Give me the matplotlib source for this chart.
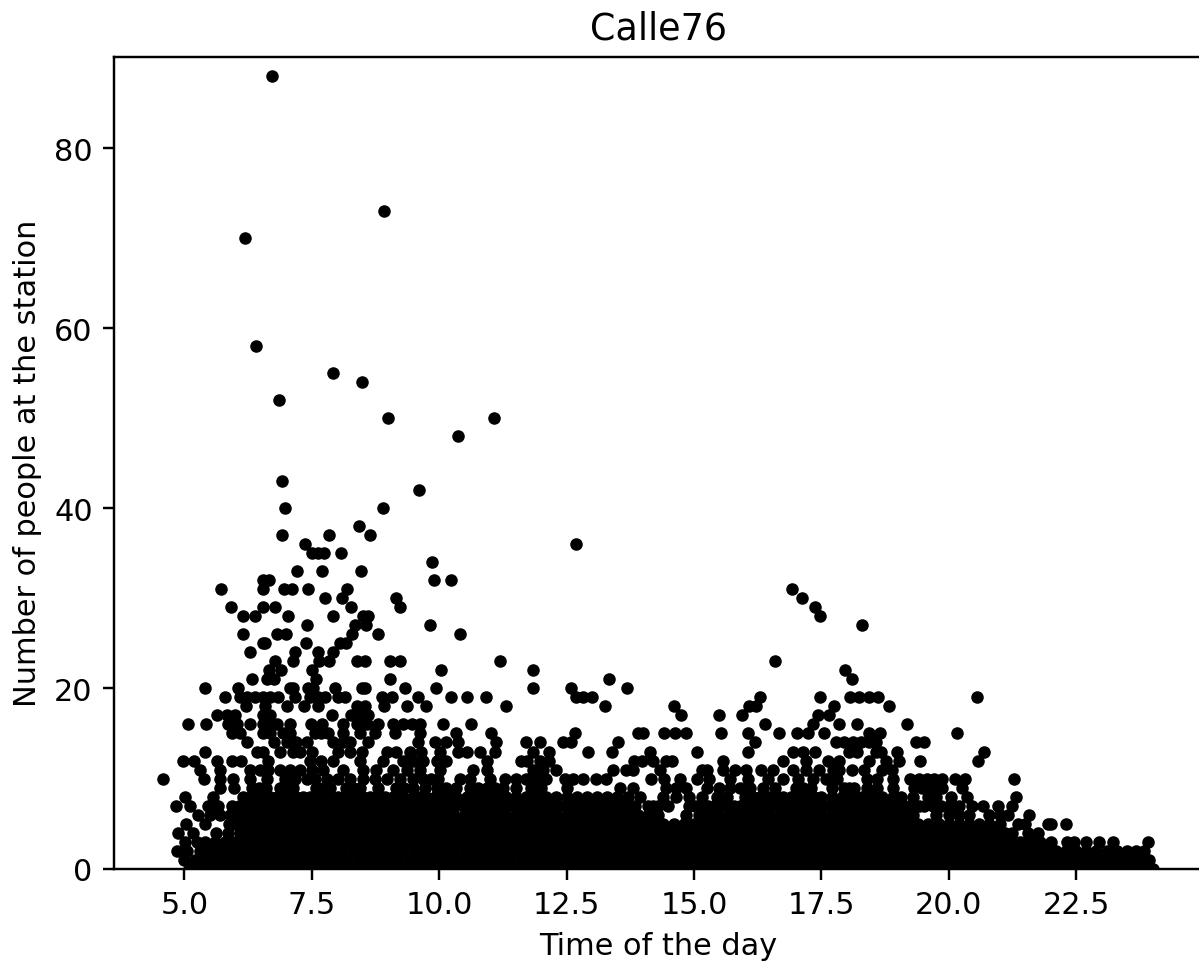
import matplotlib
matplotlib.use('Agg')
import matplotlib.pyplot as plt

# values, grouped by people count
top_x = [9.86, 7.50, 7.62, 7.74, 8.07, 7.37, 12.68, 6.92, 7.84, 8.64, 8.43, 6.98, 8.90, 9.60, 6.92,
         10.37, 8.99, 11.07, 6.86, 8.48, 7.92, 6.41, 6.19, 8.92, 6.72]
top_y = [34, 35, 35, 35, 35, 36, 36, 37, 37, 37, 38, 40, 40, 42, 43,
         48, 50, 50, 52, 54, 55, 58, 70, 73, 88]

x33 = [7.22, 7.71, 8.46]
x32 = [6.54, 6.67, 9.90, 10.23]
x31 = [5.72, 6.54, 6.96, 7.12, 7.43, 8.20, 16.92]
x30 = [7.76, 8.09, 9.16, 17.13]
x29 = [5.92, 6.54, 6.78, 8.28, 9.24, 17.38]
x28 = [6.16, 6.39, 7.03, 7.92, 8.51, 8.61, 17.48]
x27 = [7.41, 8.35, 8.56, 9.82, 18.29]
x26 = [6.16, 6.82, 6.99, 8.29, 8.80, 10.40]
x25 = [6.55, 6.58, 7.39, 8.05, 8.17]
x24 = [6.29, 7.18, 7.63, 7.92]
x23 = [6.78, 7.14, 7.65, 7.84, 8.38, 8.55, 9.03, 9.24, 11.20, 16.60]
x22 = [6.66, 6.90, 7.50, 10.04, 11.84, 17.97]
x21 = [6.33, 6.63, 6.75, 7.59, 9.03, 13.34, 18.10]
x20 = [5.40, 6.05, 7.07, 7.14, 7.43, 7.53, 7.95, 8.48, 8.55, 9.33, 9.93, 11.84, 12.59, 13.69]
x19 = [5.80, 6.09, 6.22, 6.39, 6.55, 6.68, 6.84, 7.17, 7.46, 7.63, 7.76, 8.02, 8.15, 8.87, 9.07, 9.59,
       10.24, 10.54, 10.91, 12.68, 12.82, 13.00, 16.30, 17.48, 18.07, 18.23, 18.44, 18.61, 20.55]
x18 = [6.21, 6.58, 7.01, 7.35, 7.63, 8.38, 8.54, 8.92, 9.36, 9.74, 11.31, 13.26, 14.60, 16.09, 16.22,
       17.75, 18.82]
x17 = [5.65, 5.83, 5.99, 6.55, 6.68, 7.89, 8.28, 8.44, 8.61, 14.74, 15.50, 15.94, 17.43, 17.66]
x16 = [5.07, 5.42, 5.86, 6.03, 6.29, 6.55, 6.68, 6.81, 7.07, 7.48, 7.71, 8.12, 8.38, 8.58, 8.80, 9.10,
       9.29, 9.46, 9.62, 10.08, 10.62, 16.40, 17.33, 17.85, 18.21, 19.18]
x15 = [5.93, 6.09, 6.55, 6.68, 6.94, 7.07, 7.56, 7.69, 7.82, 8.12, 8.44, 8.74, 9.13, 9.62, 10.34, 11.02,
       12.66, 13.90, 14.00, 14.42, 14.63, 14.85, 15.53, 16.07, 16.67, 17.02, 17.23, 17.56, 18.44, 18.66, 20.16]
x14 = [6.22, 6.75, 7.01, 7.20, 7.40, 7.92, 8.12, 8.25, 8.61, 9.59, 9.92, 10.14, 10.37, 11.12, 11.71,
       11.97, 12.43, 12.59, 13.51, 16.20, 17.79, 17.95, 18.12, 18.28, 18.44, 18.58, 19.36, 19.52]
x13 = [5.40, 6.42, 6.55, 6.88, 7.14, 7.27, 7.50, 8.02, 8.25, 8.48, 8.97, 9.16, 9.42, 9.65, 10.01, 10.37,
       10.54, 10.80, 11.10, 11.84, 12.16, 12.92, 13.40, 14.14, 15.07, 16.06, 16.94, 17.14, 17.37, 18.05,
       18.21, 18.58, 18.68, 18.98, 20.69]
x12 = [4.98, 5.18, 5.65, 5.93, 6.12, 6.65, 7.46, 7.69, 7.92, 8.44, 8.90, 9.29, 9.49, 9.69, 9.95, 10.14,
       10.93, 11.60, 11.73, 11.97, 12.16, 13.83, 13.99, 14.19, 14.46, 14.56, 15.57, 16.74, 17.20, 17.63,
       17.85, 18.44, 18.77, 19.03, 19.44, 20.58]
x11 = [5.31, 5.70, 6.29, 6.48, 6.65, 6.88, 7.07, 7.27, 7.50, 7.73, 8.12, 8.51, 8.77, 9.10, 9.36, 9.62,
       10.01, 10.67, 10.93, 11.84, 12.04, 12.30, 13.42, 13.67, 13.80, 14.33, 15.15, 15.25, 15.57, 15.80,
       16.03, 16.32, 16.55, 16.94, 17.20, 17.46, 17.72, 17.85, 18.10, 18.34, 18.70, 18.88]
x10 = [4.59, 5.39, 5.70, 5.96, 6.29, 6.97, 7.40, 7.56, 7.79, 8.02, 8.25, 8.51, 8.97, 9.23, 9.49, 9.69,
       9.98, 10.41, 11.29, 11.50, 11.70, 11.90, 12.10, 12.47, 12.63, 12.82, 13.08, 13.28, 14.15, 14.41,
       14.72, 15.07, 15.30, 15.70, 16.07, 16.46, 16.75, 17.04, 17.33, 17.60, 17.80, 18.40, 18.60, 18.90,
       19.25, 19.41, 19.58, 19.71, 19.87, 20.13, 20.31, 21.28,
       6.63, 7.18, 8.74, 9.84, 10.60, 11.00]
x9 = [5.70, 5.97, 6.32, 6.61, 6.88, 7.14, 7.59, 7.86, 8.18, 8.44, 9.16, 9.49, 9.95, 10.34, 10.60, 10.93,
      11.26, 11.50, 11.80, 12.00, 12.50, 13.55, 13.80, 14.45, 14.65, 14.85, 15.25, 15.50, 15.70, 15.90,
      16.10, 16.35, 16.60, 17.00, 17.30, 17.70, 17.95, 18.15, 18.40, 18.60, 18.90, 19.32, 19.48, 19.68,
      19.87, 20.27,
      6.47, 7.01, 7.72, 8.30, 8.80, 9.32, 9.72, 10.14, 10.77, 11.10, 17.15, 18.05]
x8 = [5.01, 5.57, 6.29, 6.55, 6.81, 7.07, 7.59, 7.86, 8.18, 8.51, 8.77, 9.10, 9.49, 9.75, 10.08, 10.34,
      10.73, 11.06, 11.32, 11.50, 11.70, 11.90, 12.10, 12.30, 12.70, 12.90, 13.10, 13.30, 13.50, 13.70,
      13.95, 14.40, 14.65, 14.90, 15.15, 15.45, 15.65, 16.00, 16.30, 16.60, 16.90, 17.20, 17.50, 17.70,
      17.90, 18.10, 18.30, 18.50, 18.70, 18.90, 19.07, 19.30, 19.60, 19.76, 20.05, 20.36, 21.32,
      6.16, 6.42, 6.68, 6.94, 7.20, 7.33, 7.46, 7.72, 8.02, 8.34, 8.64, 8.94, 9.30, 9.62, 9.92, 10.20,
      10.54, 10.90, 11.20, 12.50, 16.15, 16.45, 16.75, 17.05, 17.35]
x7 = [4.84, 5.12, 5.47, 5.67, 5.93, 6.19, 6.45, 6.75, 7.01, 7.40, 7.69, 7.95, 8.21, 8.47, 8.80, 9.13,
      9.39, 9.65, 9.98, 10.30, 10.64, 10.97, 11.30, 11.60, 11.85, 12.10, 12.35, 12.60, 12.85, 13.10,
      13.35, 13.60, 13.85, 14.10, 14.30, 14.50, 14.90, 15.15, 15.40, 15.65, 15.90, 16.15, 16.40, 16.65,
      16.90, 17.15, 17.40, 17.65, 17.90, 18.15, 18.40, 18.65, 18.90, 19.15, 19.32, 19.52, 20.00, 20.20,
      20.45, 20.67, 20.96, 21.24,
      6.08, 6.32, 6.60, 6.88, 7.20, 7.55, 7.82, 8.08, 8.34, 8.63, 8.96, 9.26, 9.52, 9.82, 10.14, 10.47,
      10.80, 11.13, 11.45, 11.72, 11.98, 12.22, 12.48, 12.72, 12.98, 13.22, 13.48, 13.72, 14.20, 15.03,
      15.28, 15.53, 15.78, 16.03, 16.28, 16.53, 16.78, 17.03, 17.28, 17.53, 17.78, 18.03, 18.28, 18.53,
      18.78, 19.03, 19.42, 19.70, 19.85, 20.10]
x6 = [5.27, 5.50, 5.70, 5.90, 6.10, 6.30, 6.50, 6.70, 6.90, 7.10, 7.30, 7.50, 7.70, 7.90, 8.10, 8.30,
      8.50, 8.70, 8.90, 9.10, 9.30, 9.50, 9.70, 9.90, 10.10, 10.30, 10.50, 10.70, 10.90, 11.10, 11.30,
      11.50, 11.70, 11.90, 12.10, 12.30, 12.50, 12.70, 12.90, 13.10, 13.30, 13.50, 13.70, 13.90, 14.10,
      14.30, 14.85, 15.10, 15.30, 15.50, 15.70, 15.90, 16.10, 16.30, 16.50, 16.70, 16.90, 17.10, 17.30,
      17.50, 17.70, 17.90, 18.10, 18.30, 18.50, 18.70, 18.90, 19.10, 19.30, 19.75, 20.00, 20.20, 20.40,
      20.80, 21.00, 21.16, 21.58]
x5 = [5.03, 5.41, 5.87, 6.00, 6.20, 6.40, 6.60, 6.80, 7.00, 7.20, 7.40, 7.60, 7.80, 8.00, 8.20, 8.40,
      8.60, 8.80, 9.00, 9.20, 9.40, 9.60, 9.80, 10.00, 10.20, 10.40, 10.60, 10.80, 11.00, 11.20, 11.40,
      11.60, 11.80, 12.00, 12.20, 12.40, 12.60, 12.80, 13.00, 13.20, 13.40, 13.60, 13.80, 14.00, 14.20,
      14.40, 14.60, 14.80, 15.00, 15.20, 15.40, 15.60, 15.80, 16.00, 16.20, 16.40, 16.60, 16.80, 17.00,
      17.20, 17.40, 17.60, 17.80, 18.00, 18.20, 18.40, 18.60, 18.80, 19.00, 19.20, 19.40, 19.60, 19.80,
      20.00, 20.20, 20.40, 20.60, 20.80, 21.00, 21.35, 21.50, 21.94, 22.00, 22.30]
x4 = [4.88, 5.17, 5.63, 5.85, 6.10, 6.30, 6.50, 6.70, 6.90, 7.10, 7.30, 7.50, 7.70, 7.90, 8.10, 8.30,
      8.50, 8.70, 8.90, 9.10, 9.30, 9.50, 9.70, 9.90, 10.10, 10.30, 10.50, 10.70, 10.90, 11.10, 11.30,
      11.50, 11.70, 11.90, 12.10, 12.30, 12.50, 12.70, 12.90, 13.10, 13.30, 13.50, 13.70, 13.90, 14.10,
      14.30, 14.50, 14.70, 14.90, 15.10, 15.30, 15.50, 15.70, 15.90, 16.10, 16.30, 16.50, 16.70, 16.90,
      17.10, 17.30, 17.50, 17.70, 17.90, 18.10, 18.30, 18.50, 18.70, 18.90, 19.10, 19.30, 19.50, 19.70,
      19.90, 20.10, 20.30, 20.50, 20.70, 20.90, 21.10, 21.24, 21.55, 21.75]
x3 = [5.02, 5.25, 5.40, 5.60, 5.80, 6.00, 6.20, 6.40, 6.60, 6.80, 7.00, 7.20, 7.40, 7.60, 7.80, 8.00,
      8.20, 8.40, 8.60, 8.80, 9.00, 9.20, 9.40, 9.60, 9.80, 10.00, 10.20, 10.40, 10.60, 10.80, 11.00,
      11.20, 11.40, 11.60, 11.80, 12.00, 12.20, 12.40, 12.60, 12.80, 13.00, 13.20, 13.40, 13.60, 13.80,
      14.00, 14.20, 14.40, 14.60, 14.80, 15.00, 15.20, 15.40, 15.60, 15.80, 16.00, 16.20, 16.40, 16.60,
      16.80, 17.00, 17.20, 17.40, 17.60, 17.80, 18.00, 18.20, 18.40, 18.60, 18.80, 19.00, 19.20, 19.40,
      19.60, 19.80, 20.00, 20.20, 20.40, 20.60, 20.80, 21.00, 21.20, 21.40, 21.60, 21.80, 22.00, 22.33,
      22.46, 22.69, 22.95, 23.22, 23.92]
x2 = [4.85, 5.05, 5.30, 5.50, 5.70, 5.90, 6.10, 6.30, 6.50, 6.70, 6.90, 7.10, 7.30, 7.50, 7.70, 7.90,
      8.10, 8.30, 8.50, 8.70, 8.90, 9.10, 9.30, 9.50, 9.70, 9.90, 10.10, 10.30, 10.50, 10.70, 10.90,
      11.10, 11.30, 11.50, 11.70, 11.90, 12.10, 12.30, 12.50, 12.70, 12.90, 13.10, 13.30, 13.50, 13.70,
      13.90, 14.10, 14.30, 14.50, 14.70, 14.90, 15.10, 15.30, 15.50, 15.70, 15.90, 16.10, 16.30, 16.50,
      16.70, 16.90, 17.10, 17.30, 17.50, 17.70, 17.90, 18.10, 18.30, 18.50, 18.70, 18.90, 19.10, 19.30,
      19.50, 19.70, 19.90, 20.10, 20.30, 20.50, 20.70, 20.90, 21.10, 21.30, 21.50, 21.70, 21.90, 22.10,
      22.30, 22.50, 22.70, 22.90, 23.10, 23.30, 23.50, 23.67, 23.84]
x1 = [5.00, 5.20, 5.40, 5.60, 5.80, 6.00, 6.20, 6.40, 6.60, 6.80, 7.00, 7.20, 7.40, 7.60, 7.80, 8.00,
      8.20, 8.40, 8.60, 8.80, 9.00, 9.20, 9.40, 9.60, 9.80, 10.00, 10.20, 10.40, 10.60, 10.80, 11.00,
      11.20, 11.40, 11.60, 11.80, 12.00, 12.20, 12.40, 12.60, 12.80, 13.00, 13.20, 13.40, 13.60, 13.80,
      14.00, 14.20, 14.40, 14.60, 14.80, 15.00, 15.20, 15.40, 15.60, 15.80, 16.00, 16.20, 16.40, 16.60,
      16.80, 17.00, 17.20, 17.40, 17.60, 17.80, 18.00, 18.20, 18.40, 18.60, 18.80, 19.00, 19.20, 19.40,
      19.60, 19.80, 20.00, 20.20, 20.40, 20.60, 20.80, 21.00, 21.20, 21.40, 21.60, 21.80, 22.00, 22.20,
      22.40, 22.60, 22.80, 23.00, 23.20, 23.40, 23.60, 23.80, 23.93]
x0 = [5.10, 5.30, 5.50, 5.70, 5.90, 6.10, 6.30, 6.50, 6.70, 6.90, 7.10, 7.30, 7.50, 7.70, 7.90, 8.10,
      8.30, 8.50, 8.70, 8.90, 9.10, 9.30, 9.50, 9.70, 9.90, 10.10, 10.30, 10.50, 10.70, 10.90, 11.10,
      11.30, 11.50, 11.70, 11.90, 12.10, 12.30, 12.50, 12.70, 12.90, 13.10, 13.30, 13.50, 13.70, 13.90,
      14.10, 14.30, 14.50, 14.70, 14.90, 15.10, 15.30, 15.50, 15.70, 15.90, 16.10, 16.30, 16.50, 16.70,
      16.90, 17.10, 17.30, 17.50, 17.70, 17.90, 18.10, 18.30, 18.50, 18.70, 18.90, 19.10, 19.30, 19.50,
      19.70, 19.90, 20.10, 20.30, 20.50, 20.70, 20.90, 21.10, 21.30, 21.50, 21.70, 21.90, 22.10, 22.30,
      22.50, 22.70, 22.90, 23.10, 23.30, 23.50, 23.70, 23.90, 24.00]

rows = [x0, x1, x2, x3, x4, x5, x6, x7, x8, x9, x10, x11, x12, x13, x14, x15, x16,
        x17, x18, x19, x20, x21, x22, x23, x24, x25, x26, x27, x28, x29, x30, x31, x32, x33]
y_ticks = [0, 20, 40, 60, 80]

times = list(top_x)
people = list(top_y)
for count, row in enumerate(rows):
    times += row
    people += [count] * len(row)

dpi = 219
fig = plt.figure(figsize=(1199 / dpi, 965 / dpi), dpi=dpi)
# right side of the axes runs just past the edge of the image, as in the reference
ax = fig.add_axes([114 / 1199, (965 - 869.6) / 965, 1088 / 1199, 812 / 965])
ax.scatter(times, people, s=17, c='black', linewidths=0, zorder=2)
ax.set_ylim(0, 90.15)
ax.set_yticks(y_ticks)
ax.set_xlabel('Time of the day')
ax.set_ylabel('Number of people at the station')
ax.set_title('Calle76')
fig.savefig('out.png', dpi=dpi)
